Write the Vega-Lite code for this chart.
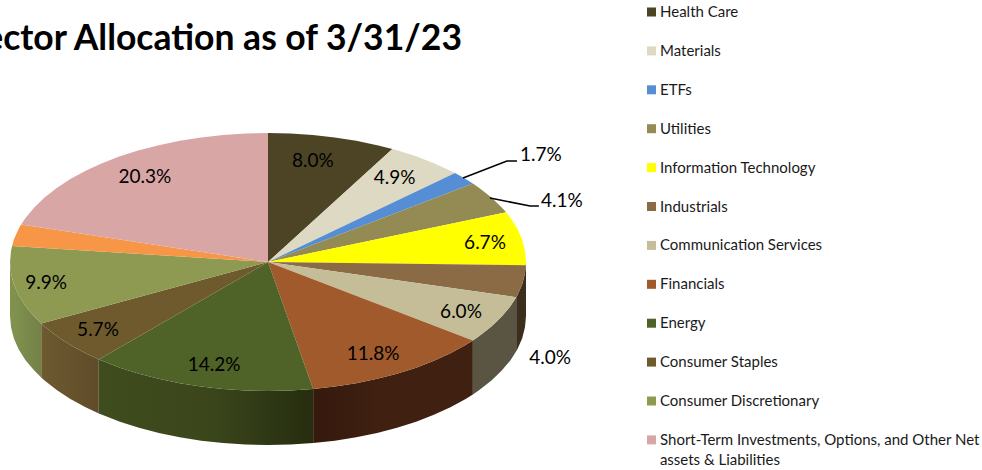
{"$schema":"https://vega.github.io/schema/vega-lite/v6.json","width":982,"height":470,"padding":0,"autosize":{"type":"none"},"background":"white","config":{"view":{"stroke":null}},
"data":{"values":[
{"s":"Industrials","x":1,"y":0,"y2":-0.419},{"s":"Industrials","x":0.996,"y":-0.087,"y2":-0.506},{"s":"Industrials","x":0.985,"y":-0.174,"y2":-0.593},{"s":"Industrials","x":0.966,"y":-0.259,"y2":-0.678},{"s":"Industrials","x":0.962,"y":-0.273,"y2":-0.692},
{"s":"Communication Services","x":0.962,"y":-0.273,"y2":-0.692},{"s":"Communication Services","x":0.94,"y":-0.342,"y2":-0.761},{"s":"Communication Services","x":0.906,"y":-0.423,"y2":-0.842},{"s":"Communication Services","x":0.866,"y":-0.5,"y2":-0.919},{"s":"Communication Services","x":0.819,"y":-0.574,"y2":-0.993},{"s":"Communication Services","x":0.794,"y":-0.608,"y2":-1.027},
{"s":"Financials","x":0.794,"y":-0.608,"y2":-1.027},{"s":"Financials","x":0.766,"y":-0.643,"y2":-1.062},{"s":"Financials","x":0.707,"y":-0.707,"y2":-1.126},{"s":"Financials","x":0.643,"y":-0.766,"y2":-1.185},{"s":"Financials","x":0.574,"y":-0.819,"y2":-1.238},{"s":"Financials","x":0.5,"y":-0.866,"y2":-1.285},{"s":"Financials","x":0.423,"y":-0.906,"y2":-1.325},{"s":"Financials","x":0.342,"y":-0.94,"y2":-1.359},{"s":"Financials","x":0.259,"y":-0.966,"y2":-1.385},{"s":"Financials","x":0.175,"y":-0.985,"y2":-1.404},
{"s":"Energy","x":0.175,"y":-0.985,"y2":-1.404},{"s":"Energy","x":0.087,"y":-0.996,"y2":-1.415},{"s":"Energy","x":0,"y":-1,"y2":-1.419},{"s":"Energy","x":-0.087,"y":-0.996,"y2":-1.415},{"s":"Energy","x":-0.174,"y":-0.985,"y2":-1.404},{"s":"Energy","x":-0.259,"y":-0.966,"y2":-1.385},{"s":"Energy","x":-0.342,"y":-0.94,"y2":-1.359},{"s":"Energy","x":-0.423,"y":-0.906,"y2":-1.325},{"s":"Energy","x":-0.5,"y":-0.866,"y2":-1.285},{"s":"Energy","x":-0.574,"y":-0.819,"y2":-1.238},{"s":"Energy","x":-0.643,"y":-0.766,"y2":-1.185},{"s":"Energy","x":-0.656,"y":-0.755,"y2":-1.174},
{"s":"Consumer Staples","x":-0.656,"y":-0.755,"y2":-1.174},{"s":"Consumer Staples","x":-0.707,"y":-0.707,"y2":-1.126},{"s":"Consumer Staples","x":-0.766,"y":-0.643,"y2":-1.062},{"s":"Consumer Staples","x":-0.819,"y":-0.574,"y2":-0.993},{"s":"Consumer Staples","x":-0.866,"y":-0.5,"y2":-0.919},{"s":"Consumer Staples","x":-0.879,"y":-0.476,"y2":-0.895},
{"s":"Consumer Discretionary","x":-0.879,"y":-0.476,"y2":-0.895},{"s":"Consumer Discretionary","x":-0.906,"y":-0.423,"y2":-0.842},{"s":"Consumer Discretionary","x":-0.94,"y":-0.342,"y2":-0.761},{"s":"Consumer Discretionary","x":-0.966,"y":-0.259,"y2":-0.678},{"s":"Consumer Discretionary","x":-0.985,"y":-0.174,"y2":-0.593},{"s":"Consumer Discretionary","x":-0.996,"y":-0.087,"y2":-0.506},{"s":"Consumer Discretionary","x":-1,"y":0,"y2":-0.419}
]},
"encoding":{"x":{"field":"x","type":"quantitative","scale":{"domain":[-1.0388,2.7674],"nice":false,"zero":false},"axis":null},"y":{"field":"y","type":"quantitative","stack":null,"scale":{"domain":[-1.6124,2.031],"nice":false,"zero":false},"axis":null}},
"layer":[
{"transform":[{"filter":"datum.s=='Energy'"}],
"mark":{"type":"area","fill":{"gradient":"linear","x1":0,"y1":0,"x2":1,"y2":0,"stops":[{"offset":0,"color":"#3F4C1D"},{"offset":0.5,"color":"#3B471B"},{"offset":1,"color":"#262D10"}]}},
"encoding":{"y2":{"field":"y2"}}},
{"transform":[{"filter":"datum.s=='Consumer Staples'"}],
"mark":{"type":"area","fill":{"gradient":"linear","x1":0,"y1":0,"x2":1,"y2":0,"stops":[{"offset":0,"color":"#6E5A30"},{"offset":1,"color":"#5F4B28"}]}},
"encoding":{"y2":{"field":"y2"}}},
{"transform":[{"filter":"datum.s=='Consumer Discretionary'"}],
"mark":{"type":"area","fill":{"gradient":"linear","x1":0,"y1":0,"x2":1,"y2":0,"stops":[{"offset":0,"color":"#83934E"},{"offset":1,"color":"#728248"}]}},
"encoding":{"y2":{"field":"y2"}}},
{"transform":[{"filter":"datum.s=='Financials'"}],
"mark":{"type":"area","fill":{"gradient":"linear","x1":0,"y1":0,"x2":1,"y2":0,"stops":[{"offset":0,"color":"#35190C"},{"offset":0.4,"color":"#3F2011"},{"offset":1,"color":"#3F2011"}]}},
"encoding":{"y2":{"field":"y2"}}},
{"transform":[{"filter":"datum.s=='Communication Services'"}],
"mark":{"type":"area","fill":"#5A5542"},
"encoding":{"y2":{"field":"y2"}}},
{"transform":[{"filter":"datum.s=='Industrials'"}],
"mark":{"type":"area","fill":"#3C2E1C"},
"encoding":{"y2":{"field":"y2"}}},
{"data":{"values":[
{"s":"Health Care","x":0,"y":0},{"s":"Health Care","x":0,"y":1},{"s":"Health Care","x":0.087,"y":0.996},{"s":"Health Care","x":0.174,"y":0.985},{"s":"Health Care","x":0.259,"y":0.966},{"s":"Health Care","x":0.342,"y":0.94},{"s":"Health Care","x":0.423,"y":0.906},{"s":"Health Care","x":0.482,"y":0.876},
{"s":"Materials","x":0,"y":0},{"s":"Materials","x":0.482,"y":0.876},{"s":"Materials","x":0.5,"y":0.866},{"s":"Materials","x":0.574,"y":0.819},{"s":"Materials","x":0.643,"y":0.766},{"s":"Materials","x":0.707,"y":0.707},{"s":"Materials","x":0.725,"y":0.689},
{"s":"ETFs","x":0,"y":0},{"s":"ETFs","x":0.725,"y":0.689},{"s":"ETFs","x":0.766,"y":0.643},{"s":"ETFs","x":0.794,"y":0.608},
{"s":"Utilities","x":0,"y":0},{"s":"Utilities","x":0.794,"y":0.608},{"s":"Utilities","x":0.819,"y":0.574},{"s":"Utilities","x":0.866,"y":0.5},{"s":"Utilities","x":0.906,"y":0.423},{"s":"Utilities","x":0.923,"y":0.386},
{"s":"Information Technology","x":0,"y":0},{"s":"Information Technology","x":0.923,"y":0.386},{"s":"Information Technology","x":0.94,"y":0.342},{"s":"Information Technology","x":0.966,"y":0.259},{"s":"Information Technology","x":0.985,"y":0.174},{"s":"Information Technology","x":0.996,"y":0.087},{"s":"Information Technology","x":1,"y":0},{"s":"Information Technology","x":1,"y":-0.025},
{"s":"Industrials","x":0,"y":0},{"s":"Industrials","x":1,"y":-0.025},{"s":"Industrials","x":0.996,"y":-0.087},{"s":"Industrials","x":0.985,"y":-0.174},{"s":"Industrials","x":0.966,"y":-0.259},{"s":"Industrials","x":0.962,"y":-0.273},
{"s":"Communication Services","x":0,"y":0},{"s":"Communication Services","x":0.962,"y":-0.273},{"s":"Communication Services","x":0.94,"y":-0.342},{"s":"Communication Services","x":0.906,"y":-0.423},{"s":"Communication Services","x":0.866,"y":-0.5},{"s":"Communication Services","x":0.819,"y":-0.574},{"s":"Communication Services","x":0.794,"y":-0.608},
{"s":"Financials","x":0,"y":0},{"s":"Financials","x":0.794,"y":-0.608},{"s":"Financials","x":0.766,"y":-0.643},{"s":"Financials","x":0.707,"y":-0.707},{"s":"Financials","x":0.643,"y":-0.766},{"s":"Financials","x":0.574,"y":-0.819},{"s":"Financials","x":0.5,"y":-0.866},{"s":"Financials","x":0.423,"y":-0.906},{"s":"Financials","x":0.342,"y":-0.94},{"s":"Financials","x":0.259,"y":-0.966},{"s":"Financials","x":0.175,"y":-0.985},
{"s":"Energy","x":0,"y":0},{"s":"Energy","x":0.175,"y":-0.985},{"s":"Energy","x":0.087,"y":-0.996},{"s":"Energy","x":0,"y":-1},{"s":"Energy","x":-0.087,"y":-0.996},{"s":"Energy","x":-0.174,"y":-0.985},{"s":"Energy","x":-0.259,"y":-0.966},{"s":"Energy","x":-0.342,"y":-0.94},{"s":"Energy","x":-0.423,"y":-0.906},{"s":"Energy","x":-0.5,"y":-0.866},{"s":"Energy","x":-0.574,"y":-0.819},{"s":"Energy","x":-0.643,"y":-0.766},{"s":"Energy","x":-0.656,"y":-0.755},
{"s":"Consumer Staples","x":0,"y":0},{"s":"Consumer Staples","x":-0.656,"y":-0.755},{"s":"Consumer Staples","x":-0.707,"y":-0.707},{"s":"Consumer Staples","x":-0.766,"y":-0.643},{"s":"Consumer Staples","x":-0.819,"y":-0.574},{"s":"Consumer Staples","x":-0.866,"y":-0.5},{"s":"Consumer Staples","x":-0.879,"y":-0.476},
{"s":"Consumer Discretionary","x":0,"y":0},{"s":"Consumer Discretionary","x":-0.879,"y":-0.476},{"s":"Consumer Discretionary","x":-0.906,"y":-0.423},{"s":"Consumer Discretionary","x":-0.94,"y":-0.342},{"s":"Consumer Discretionary","x":-0.966,"y":-0.259},{"s":"Consumer Discretionary","x":-0.985,"y":-0.174},{"s":"Consumer Discretionary","x":-0.996,"y":-0.087},{"s":"Consumer Discretionary","x":-1,"y":0},{"s":"Consumer Discretionary","x":-0.996,"y":0.087},{"s":"Consumer Discretionary","x":-0.992,"y":0.125},
{"s":"Other","x":0,"y":0},{"s":"Other","x":-0.992,"y":0.125},{"s":"Other","x":-0.985,"y":0.174},{"s":"Other","x":-0.966,"y":0.259},{"s":"Other","x":-0.957,"y":0.291},
{"s":"Short-Term","x":0,"y":0},{"s":"Short-Term","x":-0.957,"y":0.291},{"s":"Short-Term","x":-0.94,"y":0.342},{"s":"Short-Term","x":-0.906,"y":0.423},{"s":"Short-Term","x":-0.866,"y":0.5},{"s":"Short-Term","x":-0.819,"y":0.574},{"s":"Short-Term","x":-0.766,"y":0.643},{"s":"Short-Term","x":-0.707,"y":0.707},{"s":"Short-Term","x":-0.643,"y":0.766},{"s":"Short-Term","x":-0.574,"y":0.819},{"s":"Short-Term","x":-0.5,"y":0.866},{"s":"Short-Term","x":-0.423,"y":0.906},{"s":"Short-Term","x":-0.342,"y":0.94},{"s":"Short-Term","x":-0.259,"y":0.966},{"s":"Short-Term","x":-0.174,"y":0.985},{"s":"Short-Term","x":-0.087,"y":0.996},{"s":"Short-Term","x":0,"y":1}
]},
"transform":[{"window":[{"op":"row_number","as":"i"}]}],
"mark":{"type":"line","filled":true,"strokeWidth":0},
"encoding":{"order":{"field":"i","type":"quantitative"},
"fill":{"field":"s","type":"nominal","scale":{"domain":["Health Care","Materials","ETFs","Utilities","Information Technology","Industrials","Communication Services","Financials","Energy","Consumer Staples","Consumer Discretionary","Short-Term","Other"],"range":["#4D4425","#DDD9C3","#558ED5","#948A54","#FFFF00","#8B6B46","#C4BD97","#A05A2C","#4F6228","#6F5A2E","#8E9A52","#D9A6A6","#F79646"]},
"legend":{"title":null,"orient":"none","legendX":644,"legendY":4.5,"values":["Health Care","Materials","ETFs","Utilities","Information Technology","Industrials","Communication Services","Financials","Energy","Consumer Staples","Consumer Discretionary","Short-Term"],"symbolType":"square","symbolSize":81,"symbolStrokeWidth":0,"labelFont":"Lato","labelFontSize":15,"labelColor":"#1a1a1a","labelOffset":1,"labelLimit":400,"rowPadding":22.9,"padding":0,"labelExpr":"datum.label=='Short-Term'?'Short-Term Investments, Options, and Other Net':datum.label"}}}},
{"data":{"values":[{"k":"a","x":0.756,"y":0.651},{"k":"a","x":0.926,"y":0.783},{"k":"a","x":0.965,"y":0.783},{"k":"b","x":0.86,"y":0.496},{"k":"b","x":1.016,"y":0.434},{"k":"b","x":1.05,"y":0.434}]},
"mark":{"type":"line","color":"black","strokeWidth":1.5},
"encoding":{"detail":{"field":"k"}}},
{"data":{"values":[{"t":"8.0%","x":0.174,"y":0.783},{"t":"4.9%","x":0.491,"y":0.651},{"t":"1.7%","x":1.058,"y":0.829},{"t":"4.1%","x":1.139,"y":0.473},{"t":"6.7%","x":0.841,"y":0.147},{"t":"6.0%","x":0.748,"y":-0.388},{"t":"4.0%","x":1.093,"y":-0.744},{"t":"11.8%","x":0.407,"y":-0.713},{"t":"14.2%","x":-0.209,"y":-0.798},{"t":"5.7%","x":-0.659,"y":-0.527},{"t":"9.9%","x":-0.86,"y":-0.163},{"t":"20.3%","x":-0.477,"y":0.659}]},
"mark":{"type":"text","font":"Lato","fontSize":19,"color":"black"},
"encoding":{"text":{"field":"t"}}},
{"data":{"values":[{"t":"Sector Allocation as of 3/31/23","x":0.752,"y":1.73}]},
"mark":{"type":"text","font":"Lato","fontSize":35.5,"fontWeight":"bold","align":"right","color":"black"},
"encoding":{"text":{"field":"t"}}},
{"data":{"values":[{"t":"assets & Liabilities","x":1.519,"y":-1.535}]},
"mark":{"type":"text","font":"Lato","fontSize":15,"align":"left","color":"#1a1a1a"},
"encoding":{"text":{"field":"t"}}}
]}
